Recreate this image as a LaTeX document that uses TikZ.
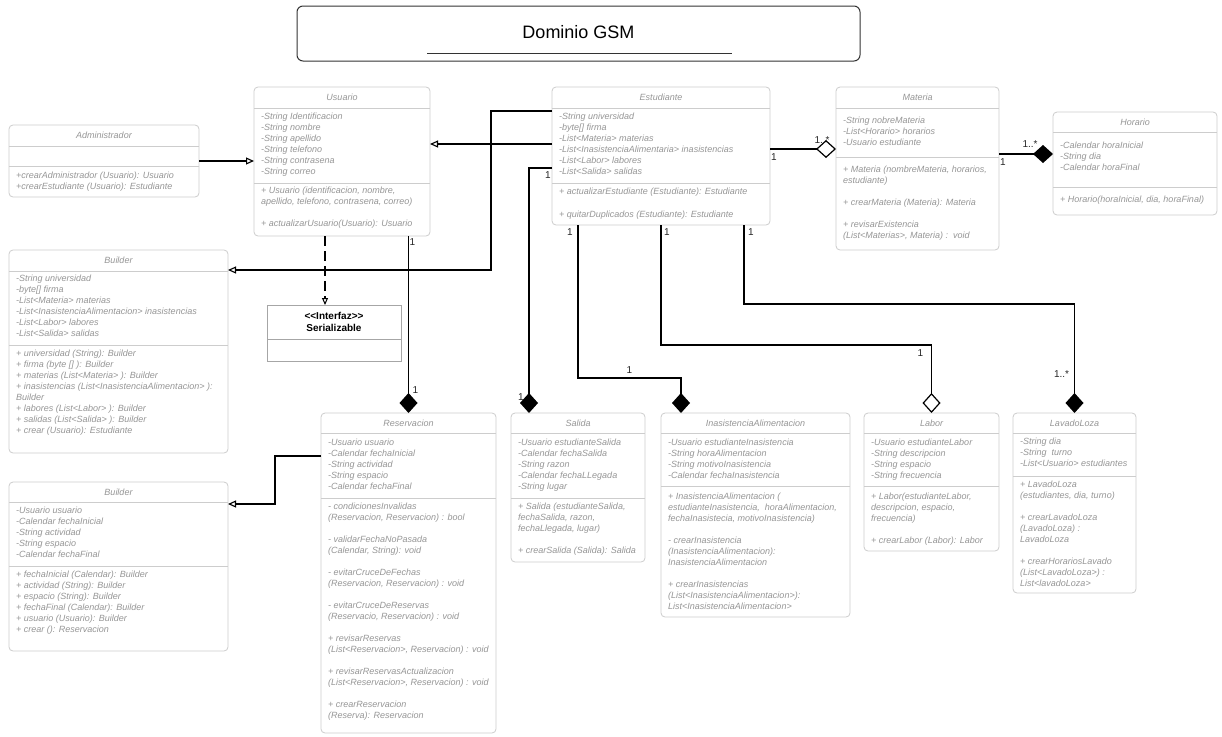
\documentclass[tikz,border=0pt]{standalone}
\usepackage{fontspec}
\setmainfont{Liberation Sans}
\usetikzlibrary{arrows.meta}
\definecolor{boxgray}{RGB}{205,205,205}
\definecolor{txtgray}{RGB}{150,150,150}

\begin{document}
\begin{tikzpicture}[x=1pt, y=-1pt,
    classbox/.style = {draw=boxgray, line width=0.8pt, rounded corners=4pt, anchor=north west, inner sep=0pt, outer sep=0pt},
    divider/.style = {draw=boxgray, line width=0.8pt},
    cname/.style = {font=\fontsize{9}{11}\selectfont\itshape, text=txtgray, inner sep=0pt},
    member/.style = {anchor=north west, align=left, inner sep=0pt, font=\fontsize{9}{11}\selectfont\itshape, text=txtgray, execute at begin node=\strut},
    ifacebox/.style = {draw=black!35, line width=0.9pt, anchor=north west, inner sep=0pt, outer sep=0pt},
    titlebox/.style = {draw=black!80, line width=1pt, rounded corners=6pt, anchor=north west, inner sep=0pt, outer sep=0pt},
    mult/.style = {font=\fontsize{10}{12}\selectfont, text=black!85, inner sep=0pt},
    inherit/.style = {line width=1.5pt, -{Triangle[open, length=8pt, width=7pt, line width=1.1pt]}},
    realize/.style = {line width=1.6pt, dash pattern=on 10pt off 5pt, -{Triangle[open, length=7pt, width=6pt, line width=1pt]}},
    compose/.style = {line width=1.5pt, -{Diamond[length=20pt, width=18pt]}},
    aggreg/.style = {line width=1.5pt, -{Diamond[fill=white, length=20pt, width=18pt, line width=1.2pt]}}]

    \fill[white] (0,0) rectangle (1222,736);
    \useasboundingbox (0,0) rectangle (1222,736);

    % title
    \node[titlebox, minimum width=563pt, minimum height=55pt] (title) at (297,6) {};
    \node[font=\fontsize{18}{22}\selectfont] (titleT) at ([shift={(0,26)}]title.north) {Dominio GSM};
    \draw[line width=0.8pt, black!80] ([shift={(130,47)}]title.north west) -- ++(305,0);

    % Administrador
    \node[classbox, minimum width=190pt, minimum height=72pt] (admin) at (9,125) {};
    \node[cname] (adminN) at ([shift={(0,10.5)}]admin.north) {Administrador};
    \draw[divider] ([shift={(0,21)}]admin.north west) -- ([shift={(0,21)}]admin.north east);
    \draw[divider] ([shift={(0,41)}]admin.north west) -- ([shift={(0,41)}]admin.north east);
    \node[member] (adminM) at ([shift={(7,46.5)}]admin.north west) {+crearAdministrador (Usuario): Usuario\\+crearEstudiante (Usuario): Estudiante};

    % Usuario
    \node[classbox, minimum width=176pt, minimum height=149pt] (usuario) at (254,87) {};
    \node[cname] (usuarioN) at ([shift={(0,10.5)}]usuario.north) {Usuario};
    \draw[divider] ([shift={(0,21)}]usuario.north west) -- ([shift={(0,21)}]usuario.north east);
    \draw[divider] ([shift={(0,96)}]usuario.north west) -- ([shift={(0,96)}]usuario.north east);
    \node[member] (usuarioA) at ([shift={(7,25.5)}]usuario.north west) {-String Identificacion\\-String nombre\\-String apellido\\-String telefono\\-String contrasena\\-String correo};
    \node[member] (usuarioM) at ([shift={(7,99.5)}]usuario.north west) {+ Usuario (identificacion, nombre,\\apellido, telefono, contrasena, correo)\\[11pt]+ actualizarUsuario(Usuario): Usuario};

    % Estudiante
    \node[classbox, minimum width=218pt, minimum height=138pt] (estudiante) at (552,87) {};
    \node[cname] (estudianteN) at ([shift={(0,10.5)}]estudiante.north) {Estudiante};
    \draw[divider] ([shift={(0,21)}]estudiante.north west) -- ([shift={(0,21)}]estudiante.north east);
    \draw[divider] ([shift={(0,96)}]estudiante.north west) -- ([shift={(0,96)}]estudiante.north east);
    \node[member] (estudianteA) at ([shift={(7,25.5)}]estudiante.north west) {-String universidad\\-byte[] firma\\-List<Materia> materias\\-List<InasistenciaAlimentaria> inasistencias\\-List<Labor> labores\\-List<Salida> salidas};
    \node[member] (estudianteM) at ([shift={(7,100.5)}]estudiante.north west) {+ actualizarEstudiante (Estudiante): Estudiante\\[12pt]+ quitarDuplicados (Estudiante): Estudiante};

    % Materia
    \node[classbox, minimum width=163pt, minimum height=163pt] (materia) at (836,87) {};
    \node[cname] (materiaN) at ([shift={(0,10.5)}]materia.north) {Materia};
    \draw[divider] ([shift={(0,21)}]materia.north west) -- ([shift={(0,21)}]materia.north east);
    \draw[divider] ([shift={(0,70)}]materia.north west) -- ([shift={(0,70)}]materia.north east);
    \node[member] (materiaA) at ([shift={(7,29.5)}]materia.north west) {-String nobreMateria\\-List<Horario> horarios\\-Usuario estudiante};
    \node[member] (materiaM) at ([shift={(7,78.5)}]materia.north west) {+ Materia (nombreMateria, horarios,\\estudiante)\\[11pt]+ crearMateria (Materia): Materia\\[11pt]+ revisarExistencia\\(List<Materias>, Materia) :~~void};

    % Horario
    \node[classbox, minimum width=164pt, minimum height=103pt] (horario) at (1053,112) {};
    \node[cname] (horarioN) at ([shift={(0,10)}]horario.north) {Horario};
    \draw[divider] ([shift={(0,20)}]horario.north west) -- ([shift={(0,20)}]horario.north east);
    \draw[divider] ([shift={(0,75)}]horario.north west) -- ([shift={(0,75)}]horario.north east);
    \node[member] (horarioA) at ([shift={(7,29.5)}]horario.north west) {-Calendar horaInicial\\-String dia\\-Calendar horaFinal};
    \node[member] (horarioM) at ([shift={(7,82.5)}]horario.north west) {+ Horario(horaInicial, dia, horaFinal)};

    % Builder de Estudiante
    \node[classbox, minimum width=219pt, minimum height=203pt] (builderE) at (9,250) {};
    \node[cname] (builderEN) at ([shift={(0,10.5)}]builderE.north) {Builder};
    \draw[divider] ([shift={(0,21)}]builderE.north west) -- ([shift={(0,21)}]builderE.north east);
    \draw[divider] ([shift={(0,95)}]builderE.north west) -- ([shift={(0,95)}]builderE.north east);
    \node[member] (builderEA) at ([shift={(7,24.5)}]builderE.north west) {-String universidad\\-byte[] firma\\-List<Materia> materias\\-List<InasistenciaAlimentacion> inasistencias\\-List<Labor> labores\\-List<Salida> salidas};
    \node[member] (builderEM) at ([shift={(7,99.5)}]builderE.north west) {+ universidad (String): Builder\\+ firma (byte [] ): Builder\\+ materias (List<Materia> ): Builder\\+ inasistencias (List<InasistenciaAlimentacion> ):\\Builder\\+ labores (List<Labor> ): Builder\\+ salidas (List<Salida> ): Builder\\+ crear (Usuario): Estudiante};

    % Serializable
    \node[ifacebox, minimum width=134pt, minimum height=56pt] (serial) at (267,305) {};
    \draw[draw=black!35, line width=0.9pt] ([shift={(0,34)}]serial.north west) -- ([shift={(0,34)}]serial.north east);
    \node[font=\fontsize{10}{12}\selectfont\bfseries, align=center, inner sep=0pt] (serialN) at ([shift={(0,17)}]serial.north) {<{}<Interfaz>{}>\\Serializable};

    % Builder de Reservacion
    \node[classbox, minimum width=219pt, minimum height=169pt] (builderR) at (9,482) {};
    \node[cname] (builderRN) at ([shift={(0,10)}]builderR.north) {Builder};
    \draw[divider] ([shift={(0,20)}]builderR.north west) -- ([shift={(0,20)}]builderR.north east);
    \draw[divider] ([shift={(0,84)}]builderR.north west) -- ([shift={(0,84)}]builderR.north east);
    \node[member] (builderRA) at ([shift={(7,24.5)}]builderR.north west) {-Usuario usuario\\-Calendar fechaInicial\\-String actividad\\-String espacio\\-Calendar fechaFinal};
    \node[member] (builderRM) at ([shift={(7,88.5)}]builderR.north west) {+ fechaInicial (Calendar): Builder\\+ actividad (String): Builder\\+ espacio (String): Builder\\+ fechaFinal (Calendar): Builder\\+ usuario (Usuario): Builder\\+ crear (): Reservacion};

    % Reservacion
    \node[classbox, minimum width=175pt, minimum height=320pt] (reserva) at (321,413) {};
    \node[cname] (reservaN) at ([shift={(0,10)}]reserva.north) {Reservacion};
    \draw[divider] ([shift={(0,20)}]reserva.north west) -- ([shift={(0,20)}]reserva.north east);
    \draw[divider] ([shift={(0,85)}]reserva.north west) -- ([shift={(0,85)}]reserva.north east);
    \node[member] (reservaA) at ([shift={(7,25.5)}]reserva.north west) {-Usuario usuario\\-Calendar fechaInicial\\-String actividad\\-String espacio\\-Calendar fechaFinal};
    \node[member] (reservaM) at ([shift={(7,89.5)}]reserva.north west) {- condicionesInvalidas\\(Reservacion, Reservacion) : bool\\[11pt]- validarFechaNoPasada\\(Calendar, String): void\\[11pt]- evitarCruceDeFechas\\(Reservacion, Reservacion) : void\\[11pt]- evitarCruceDeReservas\\(Reservacio, Reservacion) : void\\[11pt]+ revisarReservas\\(List<Reservacion>, Reservacion) : void\\[11pt]+ revisarReservasActualizacion\\(List<Reservacion>, Reservacion) : void\\[11pt]+ crearReservacion\\(Reserva): Reservacion};

    % Salida
    \node[classbox, minimum width=134pt, minimum height=149pt] (salida) at (511,413) {};
    \node[cname] (salidaN) at ([shift={(0,10)}]salida.north) {Salida};
    \draw[divider] ([shift={(0,20)}]salida.north west) -- ([shift={(0,20)}]salida.north east);
    \draw[divider] ([shift={(0,85)}]salida.north west) -- ([shift={(0,85)}]salida.north east);
    \node[member] (salidaA) at ([shift={(7,25.5)}]salida.north west) {-Usuario estudianteSalida\\-Calendar fechaSalida\\-String razon\\-Calendar fechaLLegada\\-String lugar};
    \node[member] (salidaM) at ([shift={(7,89.5)}]salida.north west) {+ Salida (estudianteSalida,\\fechaSalida, razon,\\fechaLlegada, lugar)\\[11pt]+ crearSalida (Salida): Salida};

    % InasistenciaAlimentacion
    \node[classbox, minimum width=189pt, minimum height=204pt] (inasist) at (661,413) {};
    \node[cname] (inasistN) at ([shift={(0,10)}]inasist.north) {InasistenciaAlimentacion};
    \draw[divider] ([shift={(0,20)}]inasist.north west) -- ([shift={(0,20)}]inasist.north east);
    \draw[divider] ([shift={(0,73)}]inasist.north west) -- ([shift={(0,73)}]inasist.north east);
    \node[member] (inasistA) at ([shift={(7,25.5)}]inasist.north west) {-Usuario estudianteInasistencia\\-String horaAlimentacion\\-String motivoInasistencia\\-Calendar fechaInasistencia};
    \node[member] (inasistM) at ([shift={(7,79.5)}]inasist.north west) {+ InasistenciaAlimentacion (\\estudianteInasistencia,~~horaAlimentacion,\\fechaInasistecia, motivoInasistencia)\\[11pt]- crearInasistencia\\(InasistenciaAlimentacion):\\InasistenciaAlimentacion\\[11pt]+ crearInasistencias\\(List<InasistenciaAlimentacion>):\\List<InasistenciaAlimentacion>};

    % Labor
    \node[classbox, minimum width=135pt, minimum height=138pt] (labor) at (864,413) {};
    \node[cname] (laborN) at ([shift={(0,10)}]labor.north) {Labor};
    \draw[divider] ([shift={(0,20)}]labor.north west) -- ([shift={(0,20)}]labor.north east);
    \draw[divider] ([shift={(0,73)}]labor.north west) -- ([shift={(0,73)}]labor.north east);
    \node[member] (laborA) at ([shift={(7,25.5)}]labor.north west) {-Usuario estudianteLabor\\-String descripcion\\-String espacio\\-String frecuencia};
    \node[member] (laborM) at ([shift={(7,79.5)}]labor.north west) {+ Labor(estudianteLabor,\\descripcion, espacio,\\frecuencia)\\[11pt]+ crearLabor (Labor): Labor};

    % LavadoLoza
    \node[classbox, minimum width=123pt, minimum height=180pt] (lavado) at (1013,413) {};
    \node[cname] (lavadoN) at ([shift={(0,10)}]lavado.north) {LavadoLoza};
    \draw[divider] ([shift={(0,20)}]lavado.north west) -- ([shift={(0,20)}]lavado.north east);
    \draw[divider] ([shift={(0,63)}]lavado.north west) -- ([shift={(0,63)}]lavado.north east);
    \node[member] (lavadoA) at ([shift={(7,24.5)}]lavado.north west) {-String dia\\-String~~turno\\-List<Usuario> estudiantes};
    \node[member] (lavadoM) at ([shift={(7,67.5)}]lavado.north west) {+ LavadoLoza\\(estudiantes, dia, turno)\\[11pt]+ crearLavadoLoza\\(LavadoLoza) :\\LavadoLoza\\[11pt]+ crearHorariosLavado\\(List<LavadoLoza>) :\\List<lavadoLoza>};

    % herencia
    \draw[inherit] ([shift={(0,36)}]admin.north east) -- ([shift={(0,74)}]usuario.north west);
    \draw[inherit] ([shift={(0,57)}]estudiante.north west) -- ([shift={(0,57)}]usuario.north east);
    \draw[inherit] ([shift={(0,24)}]estudiante.north west) -- ++(-61,0) |- ([shift={(0,20)}]builderE.north east);
    \draw[inherit] ([shift={(0,43)}]reserva.north west) -- ++(-46,0) |- ([shift={(0,22)}]builderR.north east);

    % realizacion
    \draw[realize] ([shift={(71,0)}]usuario.south west) coordinate (uS) -- (uS |- serial.north);

    % composicion y agregacion
    \draw[compose] (reserva.north |- usuario.south) node[mult, shift={(4,6)}] (m1) {1} -- (reserva.north) node[mult, shift={(7,-23)}] (m2) {1};
    \draw[compose] ([shift={(0,81)}]estudiante.north west) node[mult, shift={(-4,7)}] (m3) {1} -| ([shift={(18,0)}]salida.north west) node[mult, shift={(-8,-16)}] (m4) {1};
    \draw[compose] ([shift={(26,0)}]estudiante.south west) node[mult, shift={(-8,7)}] (m5) {1} |- node[mult, pos=0.75, shift={(0,-8)}] (m6) {1} ([shift={(20,-35)}]inasist.north west) -- ([shift={(20,0)}]inasist.north west);
    \draw[aggreg] ([shift={(109,0)}]estudiante.south west) node[mult, shift={(6,7)}] (m7) {1} |- ([shift={(0,-68)}]labor.north) node[mult, shift={(-11,8)}] (m8) {1} -- (labor.north);
    \draw[compose] ([shift={(192,0)}]estudiante.south west) node[mult, shift={(7,7)}] (m9) {1} |- ([shift={(0,-109)}]lavado.north) -- (lavado.north) node[mult, shift={(-13,-39)}] (m10) {1..*};
    \draw[aggreg] ([shift={(0,62)}]estudiante.north east) node[mult, shift={(4,8)}] (m11) {1} -- ([shift={(0,62)}]materia.north west) node[mult, shift={(-14,-9)}] (m12) {1..*};
    \draw[compose] ([shift={(0,67)}]materia.north east) node[mult, shift={(4,8)}] (m13) {1} -- ([shift={(0,42)}]horario.north west) node[mult, shift={(-23,-10)}] (m14) {1..*};

\end{tikzpicture}
\end{document}
